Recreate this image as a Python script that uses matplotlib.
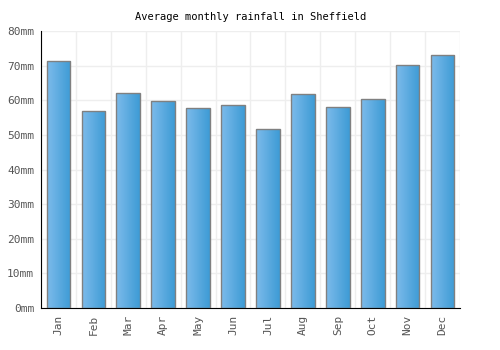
import matplotlib
matplotlib.use('Agg')
import matplotlib.pyplot as plt
import numpy as np
from matplotlib.colors import LinearSegmentedColormap

months = ['Jan', 'Feb', 'Mar', 'Apr', 'May', 'Jun', 'Jul', 'Aug', 'Sep', 'Oct', 'Nov', 'Dec']
rainfall = [71.3, 56.9, 62.1, 59.8, 57.8, 58.6, 51.7, 61.8, 58.1, 60.4, 70.2, 73.1]
yticks = [0, 10, 20, 30, 40, 50, 60, 70, 80]

plt.rcParams['font.family'] = 'DejaVu Sans Mono'

fig = plt.figure(figsize=(5, 3.5), dpi=100)
ax = fig.add_axes([0.082, 0.12, 0.838, 0.7914])

x = np.arange(len(months))
bars = ax.bar(x, rainfall, width=0.68, color='none', edgecolor='#808080', linewidth=1, zorder=3)

# horizontal gradient fill for each bar
cmap = LinearSegmentedColormap.from_list('rain', ['#7dbbeb', '#3d9bd5'])
grad = np.linspace(0, 1, 100).reshape(1, -1)
for b in bars:
    bx, by = b.get_x(), b.get_y()
    w, h = b.get_width(), b.get_height()
    im = ax.imshow(grad, cmap=cmap, aspect='auto', extent=[bx, bx + w, by, by + h], zorder=2)
    im.set_clip_path(b)

ax.set_xlim(-0.5, len(months) - 0.5)
ax.set_ylim(0, 80)
ax.set_yticks(yticks)
ax.set_yticklabels([f'{v}mm' for v in yticks])
ax.set_xticks(x)
ax.set_xticklabels(months, rotation=90)
ax.set_xticks(np.arange(-0.5, len(months), 1), minor=True)

ax.grid(False)
ax.grid(True, which='minor', axis='x', color='#eeeeee', linewidth=1, zorder=0)
ax.grid(True, which='major', axis='y', color='#eeeeee', linewidth=1, zorder=0)
ax.tick_params(which='both', length=0, labelsize=8, colors='#555555', pad=5)

for s in ['top', 'right']:
    ax.spines[s].set_visible(False)
ax.spines['left'].set_color('black')
ax.spines['bottom'].set_color('black')

ax.set_title('Average monthly rainfall in Sheffield', fontsize=7.5, pad=8)

fig.savefig('out.png', dpi=100)
